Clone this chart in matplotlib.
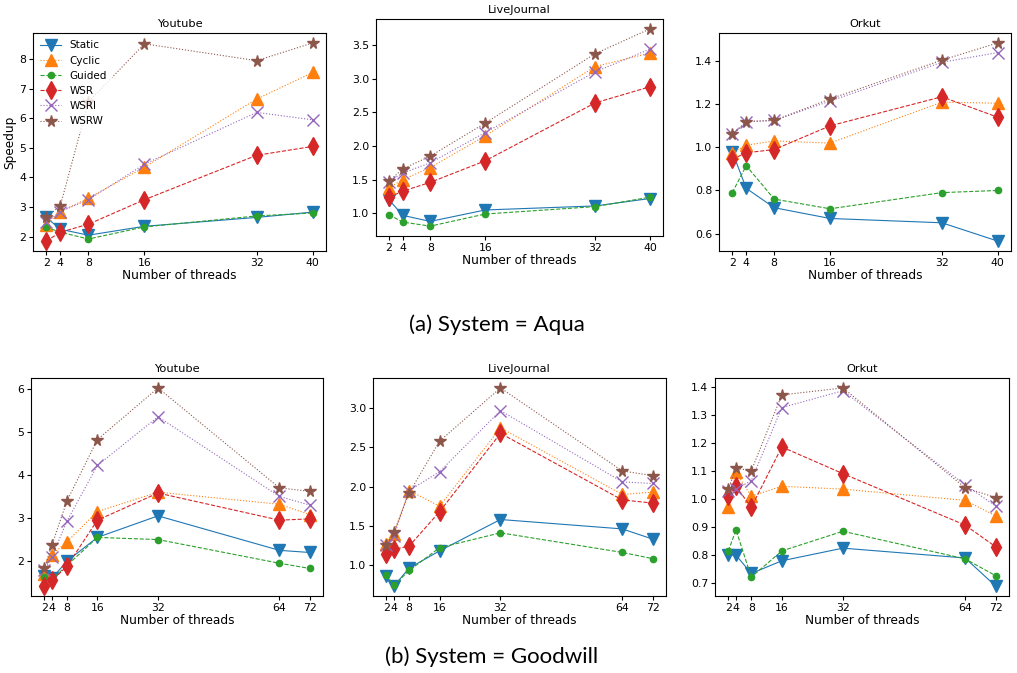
import matplotlib
matplotlib.use("Agg")
import matplotlib.pyplot as plt
from matplotlib.ticker import MultipleLocator

W, H = 1017, 673

SCHEDULERS = ["Static", "Cyclic", "Guided", "WSR", "WSRI", "WSRW"]
COLORS = ["C0", "C1", "C2", "C3", "C4", "C5"]
MARKERS = ["v", "^", "o", "d", "x", "*"]
MSIZES = [9, 9, 4.5, 9, 9, 8.5]
LSTYLES = ["-", ":", "--", "--", ":", ":"]

# ---- System = Aqua ----
aqua_threads = [2, 4, 8, 16, 32, 40]
aqua_youtube = [
    [2.65, 2.25, 2.05, 2.35, 2.65, 2.83],
    [2.40, 2.85, 3.30, 4.35, 6.65, 7.55],
    [2.32, 2.15, 1.92, 2.33, 2.70, 2.80],
    [1.85, 2.15, 2.42, 3.25, 4.75, 5.05],
    [2.50, 2.85, 3.25, 4.45, 6.20, 5.95],
    [2.65, 3.05, 6.55, 8.52, 7.95, 8.55],
]
aqua_livejournal = [
    [1.20, 0.97, 0.88, 1.05, 1.11, 1.22],
    [1.38, 1.50, 1.68, 2.15, 3.18, 3.38],
    [0.98, 0.87, 0.81, 0.99, 1.10, 1.24],
    [1.24, 1.33, 1.46, 1.78, 2.64, 2.88],
    [1.47, 1.60, 1.75, 2.20, 3.10, 3.44],
    [1.48, 1.66, 1.85, 2.34, 3.37, 3.74],
]
aqua_orkut = [
    [0.98, 0.81, 0.72, 0.67, 0.65, 0.565],
    [0.975, 1.01, 1.03, 1.02, 1.21, 1.205],
    [0.79, 0.915, 0.76, 0.715, 0.79, 0.80],
    [0.945, 0.975, 0.99, 1.10, 1.235, 1.14],
    [1.06, 1.12, 1.125, 1.215, 1.395, 1.44],
    [1.06, 1.12, 1.125, 1.225, 1.405, 1.485],
]

# ---- System = Goodwill ----
gw_threads = [2, 4, 8, 16, 32, 64, 72]
gw_youtube = [
    [1.65, 1.60, 2.00, 2.55, 3.05, 2.25, 2.20],
    [1.70, 2.15, 2.45, 3.15, 3.60, 3.32, 3.08],
    [1.62, 1.58, 1.90, 2.55, 2.50, 1.95, 1.83],
    [1.42, 1.55, 1.88, 2.95, 3.58, 2.95, 2.98],
    [1.80, 2.10, 2.93, 4.22, 5.35, 3.50, 3.30],
    [1.83, 2.37, 3.40, 4.82, 6.02, 3.70, 3.62],
]
gw_livejournal = [
    [0.86, 0.73, 0.96, 1.18, 1.58, 1.46, 1.33],
    [1.27, 1.40, 1.95, 1.75, 2.75, 1.90, 1.93],
    [0.87, 0.74, 0.93, 1.22, 1.41, 1.16, 1.08],
    [1.14, 1.20, 1.24, 1.68, 2.68, 1.83, 1.79],
    [1.25, 1.37, 1.95, 2.19, 2.97, 2.06, 2.04],
    [1.25, 1.42, 1.92, 2.58, 3.26, 2.20, 2.14],
]
gw_orkut = [
    [0.80, 0.80, 0.735, 0.78, 0.825, 0.79, 0.69],
    [0.97, 1.095, 1.01, 1.045, 1.035, 0.995, 0.94],
    [0.815, 0.89, 0.722, 0.815, 0.885, 0.787, 0.727],
    [1.01, 1.045, 0.97, 1.185, 1.09, 0.907, 0.83],
    [1.03, 1.035, 1.065, 1.325, 1.385, 1.05, 0.975],
    [1.035, 1.11, 1.10, 1.37, 1.395, 1.04, 1.005],
]

# panel boxes in pixels: left, right, top, bottom
PANELS = [
    ("Youtube", aqua_threads, aqua_youtube, (33, 326, 33, 251), 1.0),
    ("LiveJournal", aqua_threads, aqua_livejournal, (376, 663, 19, 236), 0.5),
    ("Orkut", aqua_threads, aqua_orkut, (719, 1011, 33, 251), 0.2),
    ("Youtube", gw_threads, gw_youtube, (31, 323, 378, 596), 1.0),
    ("LiveJournal", gw_threads, gw_livejournal, (373, 666, 378, 596), 0.5),
    ("Orkut", gw_threads, gw_orkut, (715, 1009, 378, 596), 0.1),
]

fig = plt.figure(figsize=(W / 100, H / 100), dpi=100, facecolor="white")

for k, (title, xs, series, (l, r, t, b), step) in enumerate(PANELS):
    ax = fig.add_axes([l / W, 1 - b / H, (r - l) / W, (b - t) / H])
    for name, ys, c, m, ms, ls in zip(SCHEDULERS, series, COLORS, MARKERS, MSIZES, LSTYLES):
        ax.plot(xs, ys, linestyle=ls, marker=m, markersize=ms, color=c,
                lw=0.8, label=name)
    ax.set_title(title, fontsize=8.2, pad=4)
    ax.set_xticks(xs)
    ax.yaxis.set_major_locator(MultipleLocator(step))
    ax.tick_params(labelsize=7.8, length=3, pad=2)
    ax.set_xlabel("Number of threads", fontsize=8.7, labelpad=1)
    if k == 0:
        ax.set_ylabel("Speedup", fontsize=8.7, labelpad=2)
        ax.legend(loc="upper left", fontsize=7.5, frameon=True, edgecolor="white",
                  borderaxespad=0.3, labelspacing=0.5, handlelength=2.0)

cap_font = ["Lato", "DejaVu Sans"]
fig.text(497 / W, 1 - 325 / H, "(a) System = Aqua", ha="center", va="center",
         fontsize=16, family=cap_font)
fig.text(492 / W, 1 - 657 / H, "(b) System = Goodwill", ha="center", va="center",
         fontsize=16, family=cap_font)

fig.savefig("out.png", dpi=100, facecolor="white")
